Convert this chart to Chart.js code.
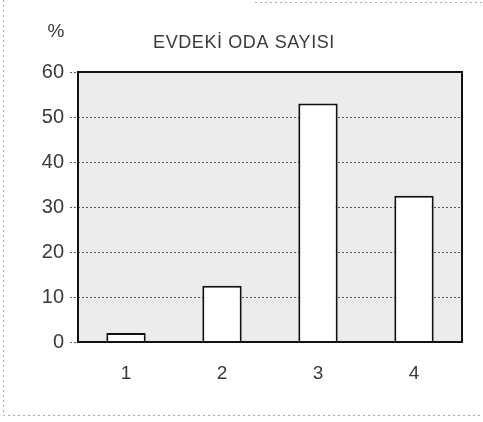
<!DOCTYPE html>
<html><head><meta charset="utf-8">
<script src="https://cdn.jsdelivr.net/npm/chart.js@4/dist/chart.umd.min.js"></script>
<style>html,body{margin:0;padding:0;background:#fff}#wrap{width:483px;height:422px}</style>
</head><body><div id="wrap"><canvas id="c" width="483" height="422"></canvas></div>
<script>
const categories = ['1', '2', '3', '4'];
const values = [2, 12.5, 53, 32.5];
const yTicks = [0, 10, 20, 30, 40, 50, 60];
const titleText = 'EVDEKİ ODA SAYISI';
const yUnit = '%';

const deco = {
  id: 'deco',
  beforeDraw(chart) {
    const {ctx, chartArea: a} = chart;
    ctx.save();
    ctx.fillStyle = '#ececec';
    ctx.fillRect(a.left, a.top, a.right - a.left, a.bottom - a.top);
    ctx.strokeStyle = '#aaa';
    ctx.lineWidth = 1;
    ctx.setLineDash([2, 3]);
    ctx.beginPath();
    ctx.moveTo(3.5, 0); ctx.lineTo(3.5, 415.5); ctx.lineTo(483, 415.5);
    ctx.moveTo(255, 2.5); ctx.lineTo(483, 2.5);
    ctx.stroke();
    ctx.restore();
  },
  afterDatasetsDraw(chart) {
    const {ctx, chartArea: a} = chart;
    ctx.save();
    ctx.strokeStyle = '#111';
    ctx.lineWidth = 2;
    ctx.strokeRect(a.left, a.top, a.right - a.left, a.bottom - a.top);
    ctx.fillStyle = '#3a3a3a';
    ctx.font = '18px "Liberation Sans", Arial, sans-serif';
    ctx.textAlign = 'center';
    ctx.textBaseline = 'middle';
    if ('letterSpacing' in ctx) ctx.letterSpacing = '0.6px';
    ctx.fillText(titleText, 244, 43);
    if ('letterSpacing' in ctx) ctx.letterSpacing = '0px';
    ctx.font = '19px "Liberation Sans", Arial, sans-serif';
    ctx.fillText(yUnit, 56, 32);
    ctx.restore();
  }
};

new Chart(document.getElementById('c'), {
  type: 'bar',
  data: {
    labels: categories,
    datasets: [{
      data: values,
      backgroundColor: '#ffffff',
      borderColor: '#111',
      borderWidth: 2,
      borderSkipped: 'bottom',
      barPercentage: 0.41,
      categoryPercentage: 1
    }]
  },
  options: {
    responsive: false,
    animation: false,
    layout: {padding: {top: 72, right: 21, left: 0, bottom: 0}},
    plugins: {legend: {display: false}, title: {display: false}, tooltip: {enabled: false}},
    scales: {
      x: {
        grid: {display: false},
        border: {display: false},
        ticks: {color: '#3a3a3a', font: {size: 19, family: '"Liberation Sans", Arial, sans-serif'}, padding: 12},
        afterFit(s) { s.height = 80; }
      },
      y: {
        min: 0, max: 60,
        afterBuildTicks(s) { s.ticks = yTicks.map(v => ({value: v})); },
        grid: {color: '#555', lineWidth: 1, tickLength: 8, tickBorderDash: [2, 2], drawTicks: true},
        border: {display: false, dash: [2, 2]},
        ticks: {color: '#3a3a3a', font: {size: 20, family: '"Liberation Sans", Arial, sans-serif'}, padding: 6},
        afterFit(s) { s.width = 78; }
      }
    }
  },
  plugins: [deco]
});
</script>
</body></html>
